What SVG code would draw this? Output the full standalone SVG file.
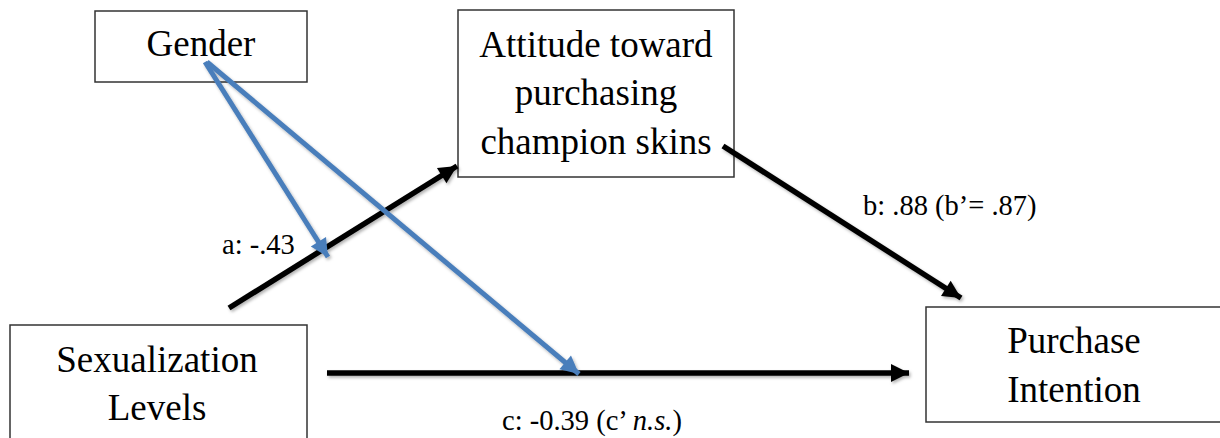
<svg xmlns="http://www.w3.org/2000/svg" width="1220" height="438" viewBox="0 0 1220 438">
<style>
.box{fill:#fff;stroke:#333;stroke-width:1.5}
.t{font-family:'Liberation Serif','Times New Roman',Tinos,'DejaVu Serif',serif;font-size:37px;fill:#000;text-anchor:middle}
.lbl{font-family:'Liberation Serif','Times New Roman',Tinos,'DejaVu Serif',serif;font-size:28.5px;fill:#000}
.blk{stroke:#000;stroke-width:5.5;fill:none}
.blu{stroke:#4a7ebb;stroke-width:5;fill:none}
</style>
<defs>
<filter id="sh" x="-10%" y="-10%" width="120%" height="120%">
<feDropShadow dx="1.5" dy="2" stdDeviation="1.5" flood-color="#000" flood-opacity="0.3"/>
</filter>
<marker id="ab" markerUnits="userSpaceOnUse" markerWidth="22" markerHeight="22" viewBox="0 0 22 22" refX="20" refY="11" orient="auto">
<path d="M2,2 L20,11 L2,20 Z" fill="#000"/>
</marker>
<marker id="au" markerUnits="userSpaceOnUse" markerWidth="22" markerHeight="22" viewBox="0 0 22 22" refX="20" refY="11" orient="auto">
<path d="M2,2 L20,11 L2,20 Z" fill="#4a7ebb"/>
</marker>
</defs>
<g id="gender">
<rect class="box" x="95" y="11" width="212" height="71"/>
<text class="t" x="201" y="56" font-family="Liberation Serif, serif">Gender</text>
</g>
<g id="attitude">
<rect class="box" x="458" y="10" width="276" height="167"/>
<text class="t" x="596" y="57">Attitude toward</text>
<text class="t" x="596" y="105">purchasing</text>
<text class="t" x="596" y="154">champion skins</text>
</g>
<g id="sexualization">
<rect class="box" x="10" y="325" width="297" height="130"/>
<text class="t" x="157" y="372">Sexualization</text>
<text class="t" x="157" y="420">Levels</text>
</g>
<g id="purchase">
<rect class="box" x="926" y="307" width="310" height="115"/>
<text class="t" x="1074" y="353">Purchase</text>
<text class="t" x="1074" y="402">Intention</text>
</g>
<g id="connectors" filter="url(#sh)">
<line class="blk" x1="229" y1="308" x2="457" y2="166" marker-end="url(#ab)"/>
<line class="blk" x1="723" y1="146" x2="961" y2="298" marker-end="url(#ab)"/>
<line class="blk" x1="327" y1="373" x2="909" y2="373" marker-end="url(#ab)"/>
<line class="blu" x1="205" y1="62" x2="328" y2="257" marker-end="url(#au)"/>
<line class="blu" x1="207" y1="62" x2="579" y2="374" marker-end="url(#au)"/>
</g>
<g id="labels">
<text class="lbl" x="222" y="254">a: -.43</text>
<text class="lbl" x="863" y="215">b: .88 (b’= .87)</text>
<text class="lbl" x="502" y="430">c: -0.39 (c’ <tspan font-style="italic">n.s.</tspan>)</text>
</g>
</svg>
